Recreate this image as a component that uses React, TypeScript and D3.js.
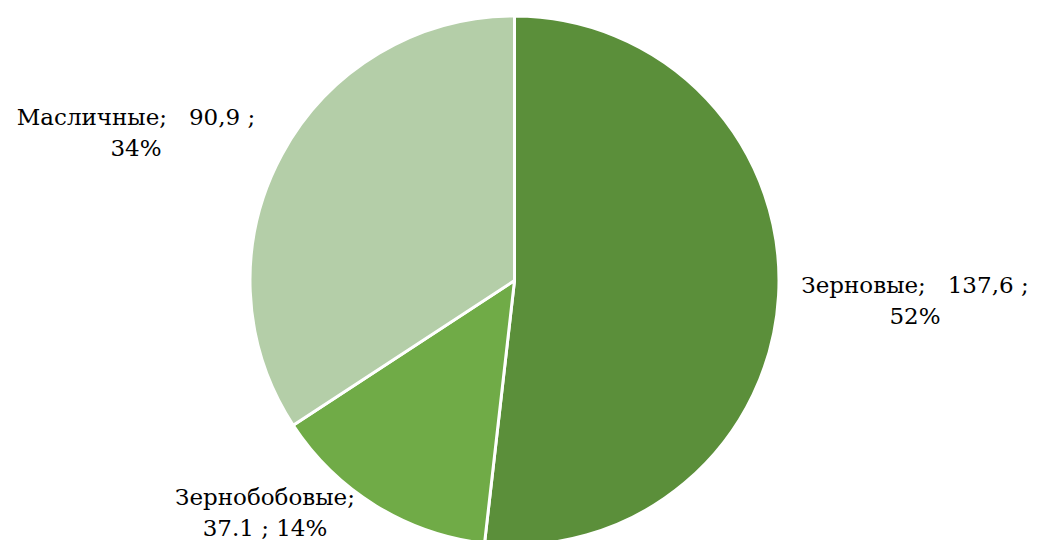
import { useEffect, useRef } from "react";
import * as d3 from "d3";

const categories = ["Зерновые", "Зернобобовые", "Масличные"];
const values = [137.6, 37.1, 90.9];
const labelLines = [
  ["Зерновые;   137,6 ;", "52%"],
  ["Зернобобовые;", "37.1 ; 14%"],
  ["Масличные;   90,9 ;", "34%"],
];
const colors = ["#5b8f3a", "#70ab47", "#b4cea8"];

const WIDTH = 1041;
const HEIGHT = 540;

export default function App() {
  const svgRef = useRef<SVGSVGElement>(null);

  useEffect(() => {
    if (!svgRef.current) return;
    const svg = d3.select(svgRef.current);
    svg.selectAll("*").remove();

    const cx = 514.5;
    const cy = 280.5;
    const radius = 264.5;

    const pie = d3
      .pie<number>()
      .sort(null)
      .value((d) => d);
    const arcs = pie(values);
    const arc = d3.arc<d3.PieArcDatum<number>>().innerRadius(0).outerRadius(radius);

    const g = svg.append("g").attr("transform", `translate(${cx},${cy})`);

    g.selectAll("path")
      .data(arcs)
      .enter()
      .append("path")
      .attr("d", arc)
      .attr("fill", (_, i) => colors[i])
      .attr("stroke", "#ffffff")
      .attr("stroke-width", 3)
      .attr("stroke-linejoin", "round");

    // label centre x and first baseline y, page coords
    const labelPos = [
      [915, 293],
      [265, 505],
      [136, 125],
    ];

    const labels = svg.append("g");
    categories.forEach((c, i) => {
      const [lx, ly] = labelPos[i];
      const t = labels
        .append("text")
        .attr("text-anchor", "middle")
        .attr("font-family", "'DejaVu Serif', serif")
        .attr("font-size", 23)
        .attr("fill", "#000000")
        .attr("data-category", c)
        .style("white-space", "pre");
      labelLines[i].forEach((line, j) => {
        t.append("tspan")
          .attr("x", lx)
          .attr("y", ly + j * 30.5)
          .text(line);
      });
    });
  }, []);

  return (
    <svg
      ref={svgRef}
      width={WIDTH}
      height={HEIGHT}
      viewBox={`0 0 ${WIDTH} ${HEIGHT}`}
      style={{ position: "absolute", left: 0, top: 0, background: "#ffffff" }}
    />
  );
}
